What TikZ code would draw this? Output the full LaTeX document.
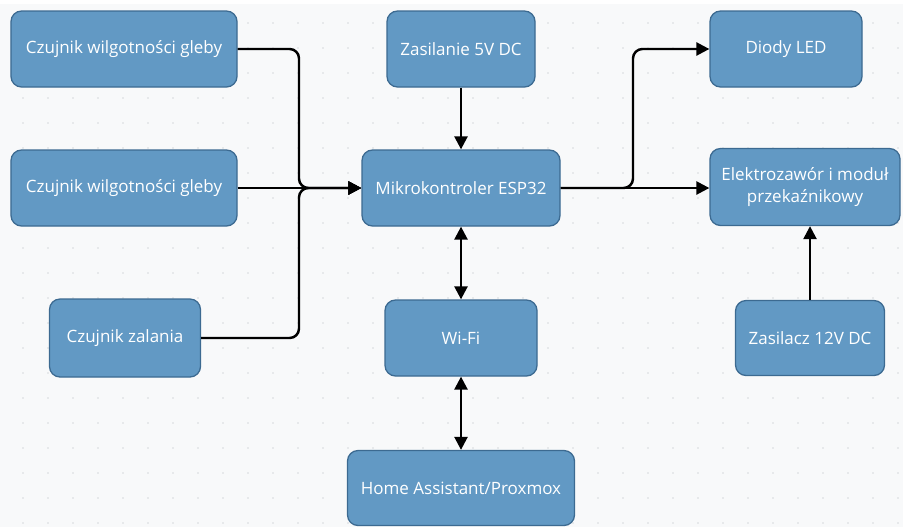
\documentclass[tikz,border=0pt]{standalone}
\usepackage{fontspec}
\setmainfont{Open Sans}
\usetikzlibrary{arrows.meta, positioning, calc}
\definecolor{boxfill}{RGB}{98,153,196}
\definecolor{boxline}{RGB}{60,106,145}
\definecolor{paper}{RGB}{248,249,250}
\definecolor{griddot}{RGB}{214,217,221}

\begin{document}
\begin{tikzpicture}[x=0.03cm, y=-0.03cm,
    block/.style={rectangle, rounded corners=9pt, draw=boxline, line width=1.1pt,
        fill=boxfill, text=white, align=center, inner sep=2pt,
        font=\fontsize{14.5}{18}\selectfont},
    conn/.style={line width=2.1pt, -{Triangle[length=11pt, width=11pt]}},
    both/.style={line width=2.1pt, {Triangle[length=11pt, width=11pt]}-{Triangle[length=11pt, width=11pt]}}]
    \useasboundingbox (0,0) rectangle (903,527);
    \fill[paper] (0,4) rectangle (903,527);
    \foreach \i in {0,...,35}
        \foreach \j in {0,...,20}
            \fill[griddot] (23+25*\i, 23+25*\j) circle (0.7pt);

    % sensors
    \node[block, minimum width=6.78cm, minimum height=2.28cm] (soil1) at (124,49) {Czujnik wilgotności gleby};
    \node[block, minimum width=6.78cm, minimum height=2.28cm] (soil2) at (124,188) {Czujnik wilgotności gleby};
    \node[block, minimum width=4.53cm, minimum height=2.34cm] (flood) at (125,338) {Czujnik zalania};

    % middle column
    \node[block, minimum width=4.44cm, minimum height=2.28cm] (psu5) at (461,49) {Zasilanie 5V DC};
    \node[block, minimum width=5.94cm, minimum height=2.28cm] (esp) at (461,188) {Mikrokontroler ESP32};
    \node[block, minimum width=4.56cm, minimum height=2.28cm] (wifi) at (461,338) {Wi-Fi};
    \node[block, minimum width=6.81cm, minimum height=2.25cm] (ha) at (461,488) {Home Assistant/Proxmox};

    % outputs
    \node[block, minimum width=4.56cm, minimum height=2.28cm] (led) at (786,49) {Diody LED};
    \node[block, minimum width=5.70cm, minimum height=2.31cm] (valve) at (805,187) {Elektrozawór i moduł\\przekaźnikowy};
    \node[block, minimum width=4.47cm, minimum height=2.25cm] (psu12) at (810,338) {Zasilacz 12V DC};

    \coordinate (jin) at (299,188);
    \coordinate (jout) at (633,188);

    \draw[conn, rounded corners=8pt] (soil1.east) -| (jin) -- (esp.west);
    \draw[conn] (soil2.east) -- (esp.west);
    \draw[conn, rounded corners=8pt] (flood.east) -| (jin) -- (esp.west);
    \draw[conn] (psu5.south) -- (esp.north);
    \draw[conn] (esp.east) -- (esp.east -| valve.west);
    \draw[conn, rounded corners=8pt] (esp.east) -- (jout) |- (led.west);
    \draw[both] (esp.south) -- (wifi.north);
    \draw[both] (wifi.south) -- (ha.north);
    \draw[conn] (psu12.north) -- (psu12.north |- valve.south);
\end{tikzpicture}
\end{document}
